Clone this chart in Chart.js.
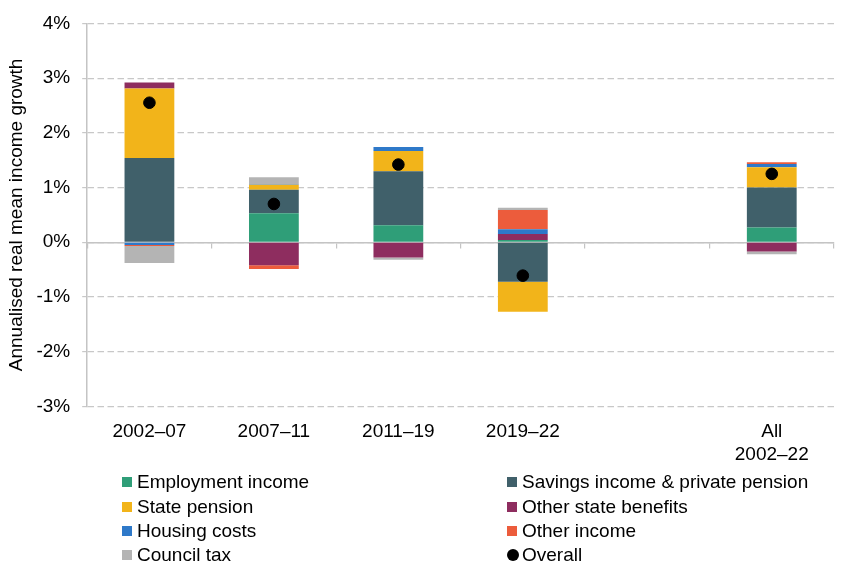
<!DOCTYPE html>
<html>
<head>
<meta charset="utf-8">
<script src="https://cdn.jsdelivr.net/npm/chart.js@4.4.1/dist/chart.umd.min.js"></script>
<style>
  html, body { margin: 0; padding: 0; background: #fff; }
  #wrap { position: relative; width: 848px; height: 580px; }
  #legend { position: absolute; left: 0; top: 0; width: 848px; height: 580px; pointer-events: none;
            font-family: "Liberation Sans", Arial, sans-serif; font-size: 19px; color: #000; }
  .item { position: absolute; height: 22px; line-height: 22px; white-space: nowrap; }
  .sw { position: absolute; top: 6px; width: 10px; height: 10px; }
  .dot { border-radius: 50%; width: 12px; height: 12px; top: 5px; }
  .lbl { position: absolute; left: 15px; top: 0; }
</style>
</head>
<body>
<div id="wrap">
  <canvas id="c" width="848" height="580"></canvas>
  <div id="legend"></div>
</div>
<script>
const categories = ['2002–07', '2007–11', '2011–19', '2019–22', '', ['All', '2002–22']];
const employmentIncome   = [0.00,  0.53,  0.31,  0.04, null,  0.27];
const savingsIncome      = [1.54,  0.43,  0.99, -0.72, null,  0.73];
const statePension       = [1.27,  0.09,  0.37, -0.55, null,  0.37];
const otherStateBenefits = [0.11, -0.42, -0.28,  0.11, null, -0.17];
const housingCosts       = [-0.05, 0.01,  0.07,  0.09, null,  0.06];
const otherIncome        = [-0.02, -0.07, 0.00,  0.35, null,  0.03];
const councilTax         = [-0.31, 0.13, -0.04,  0.04, null, -0.05];
const overall            = [2.55,  0.70,  1.42, -0.61, null,  1.25];
const yTicks = [-3, -2, -1, 0, 1, 2, 3, 4];

const seriesNames = ['Employment income', 'Savings income & private pension', 'State pension',
  'Other state benefits', 'Housing costs', 'Other income', 'Council tax'];
const seriesData = [employmentIncome, savingsIncome, statePension, otherStateBenefits,
  housingCosts, otherIncome, councilTax];
const seriesColors = ['#2f9e78', '#40606a', '#f2b41a', '#8e2d5f', '#2e79c9', '#ec5c3c', '#b4b4b4'];

const FONT = { family: '"Liberation Sans", Arial, sans-serif', size: 19 };

const datasets = seriesNames.map((name, i) => ({
  type: 'bar',
  label: name,
  data: seriesData[i],
  backgroundColor: seriesColors[i],
  borderWidth: 0,
  xAxisID: 'x',
  yAxisID: 'y',
  stack: 'comp',
  order: 1,
  barPercentage: 0.4,
  categoryPercentage: 1.0
}));
datasets.push({
  type: 'line',
  label: 'Overall',
  data: overall,
  showLine: false,
  pointRadius: 5.8,
  pointHoverRadius: 5.8,
  pointBackgroundColor: '#000',
  pointBorderColor: '#000',
  borderColor: '#000',
  backgroundColor: '#000',
  xAxisID: 'x',
  yAxisID: 'y',
  stack: 'overall',
  order: 0
});

new Chart(document.getElementById('c'), {
  data: { labels: categories, datasets },
  options: {
    responsive: false,
    animation: false,
    devicePixelRatio: 1,
    layout: { padding: { left: 5.6, right: 14, top: 14.5, bottom: 100 } },
    plugins: { legend: { display: false }, tooltip: { enabled: false } },
    scales: {
      x: {
        type: 'category',
        stacked: true,
        offset: true,
        position: { y: 0 },
        ticks: { display: false },
        grid: { display: true, offset: true, drawOnChartArea: false, drawTicks: true, tickLength: 5,
                color: '#c4c4c4', lineWidth: 1.2 },
        border: { display: true, color: '#c4c4c4', width: 1.5 }
      },
      x2: {
        type: 'category',
        labels: categories,
        position: 'bottom',
        offset: true,
        grid: { display: false, drawTicks: false },
        border: { display: false },
        ticks: { font: FONT, color: '#000', padding: 14, maxRotation: 0, autoSkip: false }
      },
      y: {
        stacked: true,
        min: -3,
        max: 4,
        afterBuildTicks: (axis) => { axis.ticks = yTicks.map(v => ({ value: v })); },
        ticks: { font: FONT, color: '#000', padding: 12, callback: v => v + '%' },
        grid: { color: '#c8c8c8', lineWidth: 1.2, drawTicks: true, tickLength: 5 },
        border: { display: true, color: '#c4c4c4', width: 1.5, dash: [6.5, 3.5] },
        title: { display: true, text: 'Annualised real mean income growth', font: FONT, color: '#000',
                 padding: { top: 0, bottom: -4 } }
      }
    }
  }
});

// HTML legend built from the series arrays
const legend = document.getElementById('legend');
const legendItems = [];
seriesNames.forEach((n, i) => legendItems.push({ name: n, color: seriesColors[i], dot: false }));
legendItems.push({ name: 'Overall', color: '#000', dot: true });
const colX = [122, 507];
const rowY = [471, 495.5, 519.5, 543.5];
legendItems.forEach((it, k) => {
  const col = k % 2, row = Math.floor(k / 2);
  const d = document.createElement('div');
  d.className = 'item';
  d.style.left = colX[col] + 'px';
  d.style.top = rowY[row] + 'px';
  const sw = document.createElement('span');
  sw.className = 'sw' + (it.dot ? ' dot' : '');
  sw.style.background = it.color;
  const lb = document.createElement('span');
  lb.className = 'lbl';
  lb.textContent = it.name;
  d.appendChild(sw); d.appendChild(lb);
  legend.appendChild(d);
});
</script>
</body>
</html>
